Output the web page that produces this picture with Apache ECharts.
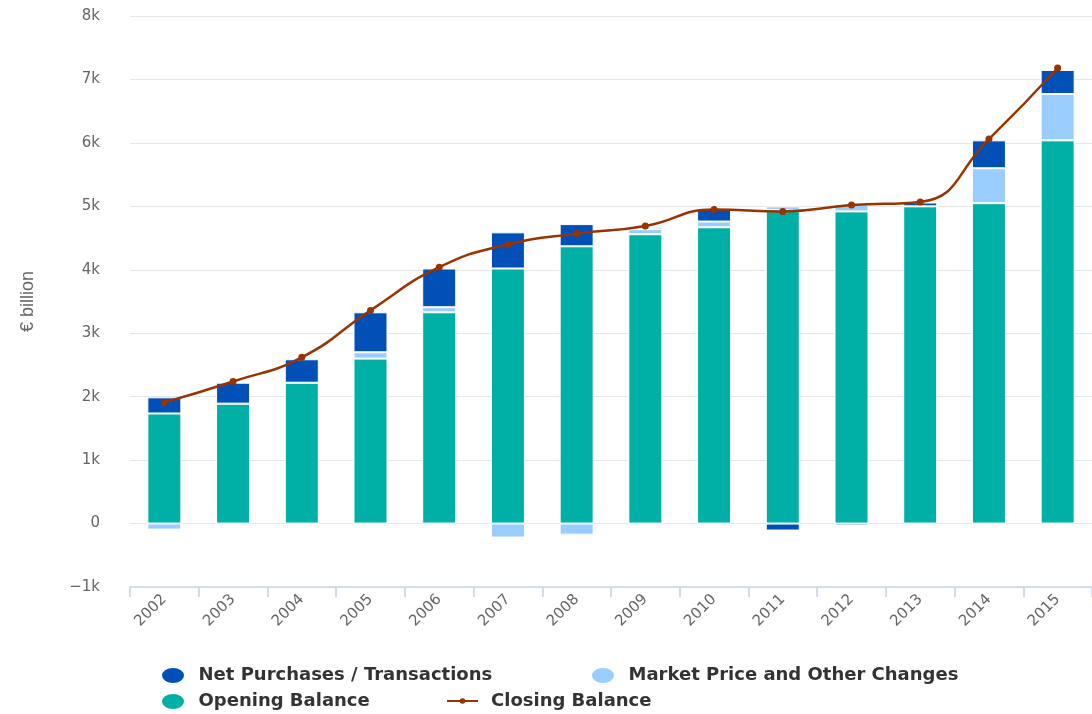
<!DOCTYPE html>
<html>
<head>
<meta charset="utf-8">
<script src="https://cdn.jsdelivr.net/npm/echarts@6/dist/echarts.min.js"></script>
<style>
  html, body { margin: 0; padding: 0; background: #fff; }
  #chart-content { width: 1092px; height: 714px; }
</style>
</head>
<body>
<div id="chart-content"></div>
<script>
var years = ["2002", "2003", "2004", "2005", "2006", "2007", "2008", "2009", "2010", "2011", "2012", "2013", "2014", "2015"];
var openingBalance = [1735, 1890, 2220, 2600, 3330, 4020, 4370, 4560, 4670, 4940, 4920, 5000, 5050, 6040];
var marketChanges = [-95, 0, 0, 100, 80, -220, -175, 80, 90, 60, 110, 0, 550, 730];
var netPurchases = [255, 330, 370, 630, 610, 570, 350, 30, 200, -110, -30, 60, 440, 380];
var closingBalance = [1910, 2240, 2620, 3360, 4040, 4400, 4570, 4690, 4950, 4920, 5020, 5070, 6060, 7180];
var yTicks = [-1000, 0, 1000, 2000, 3000, 4000, 5000, 6000, 7000, 8000];

var myChart = echarts.init(document.getElementById("chart-content"));

var barStyle = function (color) {
  return { color: color, borderColor: "#ffffff", borderWidth: 1 };
};

// legend: one entry per legend box so each sits where it is in the picture
var legendText = { fontSize: 18, fontWeight: "bold", color: "#333333", fontFamily: "DejaVu Sans", padding: [0, 0, 0, 8] };
var ellipse = "path://M12,0A12,8.5,0,1,1,12,17A12,8.5,0,1,1,12,0z";
var legendBox = function (name, left, top, icon) {
  var box = {
    left: left,
    top: top,
    itemWidth: 25,
    itemHeight: 17,
    textStyle: legendText,
    data: [icon ? { name: name, icon: icon } : { name: name }]
  };
  if (!icon) {
    box.itemWidth = 31;
    box.itemHeight = 7;
  }
  return box;
};

var option = {
  animation: false,
  textStyle: { fontFamily: "DejaVu Sans" },
  grid: { left: 130, right: -11, top: 16, bottom: 127 },
  legend: [
    legendBox("Net Purchases / Transactions", 155, 661, ellipse),
    legendBox("Market Price and Other Changes", 585, 661, ellipse),
    legendBox("Opening Balance", 155, 687, ellipse),
    legendBox("Closing Balance", 441, 687, null)
  ],
  xAxis: {
    type: "category",
    data: years,
    axisLine: { onZero: false, lineStyle: { color: "#ccd6eb", width: 1.5 } },
    axisTick: { show: true, length: 10, lineStyle: { color: "#c4d0e8", width: 1.5 } },
    axisLabel: { rotate: 45, color: "#666666", fontSize: 15, margin: 10 }
  },
  yAxis: {
    type: "value",
    min: yTicks[0],
    max: yTicks[yTicks.length - 1],
    interval: 1000,
    name: "€ billion",
    nameLocation: "middle",
    nameGap: 93,
    nameTextStyle: { color: "#666666", fontSize: 18, fontFamily: "Liberation Sans" },
    axisLabel: {
      color: "#666666",
      fontSize: 15,
      margin: 30,
      formatter: function (v) {
        if (v === 0) return "0";
        var s = Math.abs(v) / 1000 + "k";
        return v < 0 ? "\u2212" + s : s;
      }
    },
    splitLine: { lineStyle: { color: "#e6e6e6" } }
  },
  series: [
    {
      name: "Opening Balance",
      type: "bar",
      stack: "total",
      barWidth: 34,
      itemStyle: barStyle("#00b0a6"),
      data: openingBalance
    },
    {
      name: "Market Price and Other Changes",
      type: "bar",
      stack: "total",
      barWidth: 34,
      itemStyle: barStyle("#99ccff"),
      data: marketChanges
    },
    {
      name: "Net Purchases / Transactions",
      type: "bar",
      stack: "total",
      barWidth: 34,
      itemStyle: barStyle("#0050b8"),
      data: netPurchases
    },
    {
      name: "Closing Balance",
      type: "line",
      smooth: true,
      symbol: "circle",
      symbolSize: 7,
      lineStyle: { color: "#993300", width: 2.5 },
      itemStyle: { color: "#993300" },
      data: closingBalance
    }
  ]
};

myChart.setOption(option);
</script>
</body>
</html>
